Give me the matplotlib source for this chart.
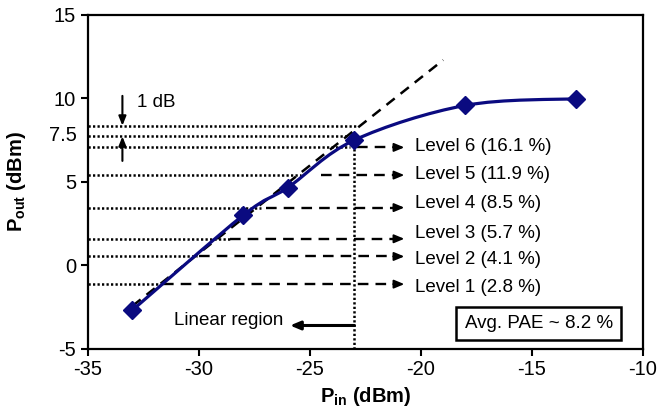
import numpy as np
import matplotlib
matplotlib.use("Agg")
import matplotlib.pyplot as plt
from matplotlib.path import Path
from matplotlib.patches import PathPatch
import matplotlib.transforms as mtransforms

plt.rcParams['font.family'] = ['Liberation Sans', 'DejaVu Sans']
plt.rcParams['mathtext.fontset'] = 'custom'
plt.rcParams['mathtext.rm'] = 'Liberation Sans'
plt.rcParams['mathtext.bf'] = 'Liberation Sans:bold'
plt.rcParams['mathtext.it'] = 'Liberation Sans:italic'
plt.rcParams['axes.unicode_minus'] = False

# ---- data ----
pin = [-33, -28, -26, -23, -18, -13]
pout = [-2.7, 3.0, 4.65, 7.5, 9.58, 9.98]

linear_pin = [-33.0, -19.0]
linear_pout = [-2.45, 12.3]

# reference levels (dotted from axis, then dashed arrow to label)
level_pout = [-1.14, 0.52, 1.58, 3.45, 5.4, 7.06]
level_dot_end = [-31.8, -30.1, -28.6, -27.2, -25.4, -23.2]
level_dash_start = [-31.6, -30.0, -28.6, -27.0, -24.5, -22.9]
level_arrow_end = -20.75
level_labels = ["Level 1 (2.8 %)", "Level 2 (4.1 %)", "Level 3 (5.7 %)",
                "Level 4 (8.5 %)", "Level 5 (11.9 %)", "Level 6 (16.1 %)"]
level_label_pout = [-1.32, 0.34, 1.92, 3.72, 5.42, 7.12]

# extra dotted lines (1 dB compression marks)
extra_dot_pout = [8.36, 7.72]
extra_dot_end = [-22.9, -23.3]

compression_pin = -23
x_ticks = [-35, -30, -25, -20, -15, -10]
y_ticks = [-5, 0, 5, 10, 15]

NAVY = '#0a0a80'

fig = plt.figure(figsize=(6.59, 4.13), dpi=100)
ax = fig.add_axes([88/659, 1-348.5/413, (643-88)/659, (348.5-15)/413])
ax.set_xlim(-35, -10)
ax.set_ylim(-5, 15)
ax.set_xticks(x_ticks)
ax.set_yticks(y_ticks)
ax.tick_params(direction='out', length=5, width=1.5, labelsize=14.5, pad=3.5)
for s in ax.spines.values():
    s.set_linewidth(1.6)

dot_style = dict(color='black', lw=1.8, linestyle=(0, (0.9, 0.9)))
dash_style = dict(color='black', lw=1.7, linestyle=(0, (4.5, 3.0)))

# dotted level lines
for y, xe in zip(level_pout, level_dot_end):
    ax.plot([-35, xe], [y, y], **dot_style)
for y, xe in zip(extra_dot_pout, extra_dot_end):
    ax.plot([-35, xe], [y, y], **dot_style)

# dashed arrows to labels
for y, xs, lab, ly in zip(level_pout, level_dash_start, level_labels, level_label_pout):
    ax.plot([xs, level_arrow_end - 0.35], [y, y], **dash_style)
    ax.annotate('', xy=(level_arrow_end, y), xytext=(level_arrow_end - 0.5, y),
                arrowprops=dict(arrowstyle='-|>,head_length=0.6,head_width=0.25',
                                color='black', lw=1.4, shrinkA=0, shrinkB=0))
    ax.text(-20.28, ly, lab, fontsize=13.5, ha='left', va='center')

# vertical dotted line at compression input
ax.plot([compression_pin, compression_pin], [-5, 7.2], **dot_style)

# linear extrapolation
ax.plot(linear_pin, linear_pout, color='black', lw=1.8, linestyle=(0, (4.2, 3.0)))

# smooth curve through measured points (Catmull-Rom as cubic Bezier)
pts = np.column_stack([pin, pout]).astype(float)
n = len(pts)
verts = [pts[0]]
codes = [Path.MOVETO]
for i in range(n - 1):
    p0 = pts[i - 1] if i > 0 else pts[i]
    p1 = pts[i]
    p2 = pts[i + 1]
    p3 = pts[i + 2] if i + 2 < n else pts[i + 1]
    verts += [p1 + (p2 - p0) / 6, p2 - (p3 - p1) / 6, p2]
    codes += [Path.CURVE4] * 3
ax.add_patch(PathPatch(Path(verts, codes), facecolor='none', edgecolor=NAVY, lw=2.3, zorder=4))
ax.plot(pin, pout, linestyle='none', marker='D', markersize=9.5, color=NAVY, zorder=5)

# 1 dB arrows
ax.annotate('', xy=(-33.45, 8.36), xytext=(-33.45, 10.15),
            arrowprops=dict(arrowstyle='-|>,head_length=0.55,head_width=0.22',
                            color='black', lw=1.5, shrinkA=0, shrinkB=0))
ax.annotate('', xy=(-33.45, 7.72), xytext=(-33.45, 6.25),
            arrowprops=dict(arrowstyle='-|>,head_length=0.55,head_width=0.22',
                            color='black', lw=1.5, shrinkA=0, shrinkB=0))
ax.text(-32.8, 9.76, "1 dB", fontsize=13.5, ha='left', va='center')

# 7.5 label on axis
trans = mtransforms.blended_transform_factory(ax.transAxes, ax.transData)
ax.text(-0.02, 7.75, "7.5", transform=trans, fontsize=14.5, ha='right', va='center')

# Linear region arrow
ax.annotate('', xy=(-25.9, -3.62), xytext=(-23, -3.62),
            arrowprops=dict(arrowstyle='-|>,head_length=0.6,head_width=0.25',
                            color='black', lw=2.2, shrinkA=0, shrinkB=0))
ax.text(-26.2, -3.35, "Linear region", fontsize=13.5, ha='right', va='center')

# Avg PAE box
ax.text(-14.7, -3.5, "Avg. PAE ~ 8.2 %", fontsize=13.5, ha='center', va='center',
        bbox=dict(boxstyle='square,pad=0.45', facecolor='white', edgecolor='black', lw=1.8))

ax.set_xlabel(r'$\mathbf{P_{in}}$ (dBm)', fontsize=14.5, fontweight='bold')
ax.set_ylabel(r'$\mathbf{P_{out}}$ (dBm)', fontsize=14.5, fontweight='bold')
ax.xaxis.set_label_coords(0.5, -0.11)
ax.yaxis.set_label_coords(-0.108, 0.5)

fig.savefig('out.png', dpi=100)
